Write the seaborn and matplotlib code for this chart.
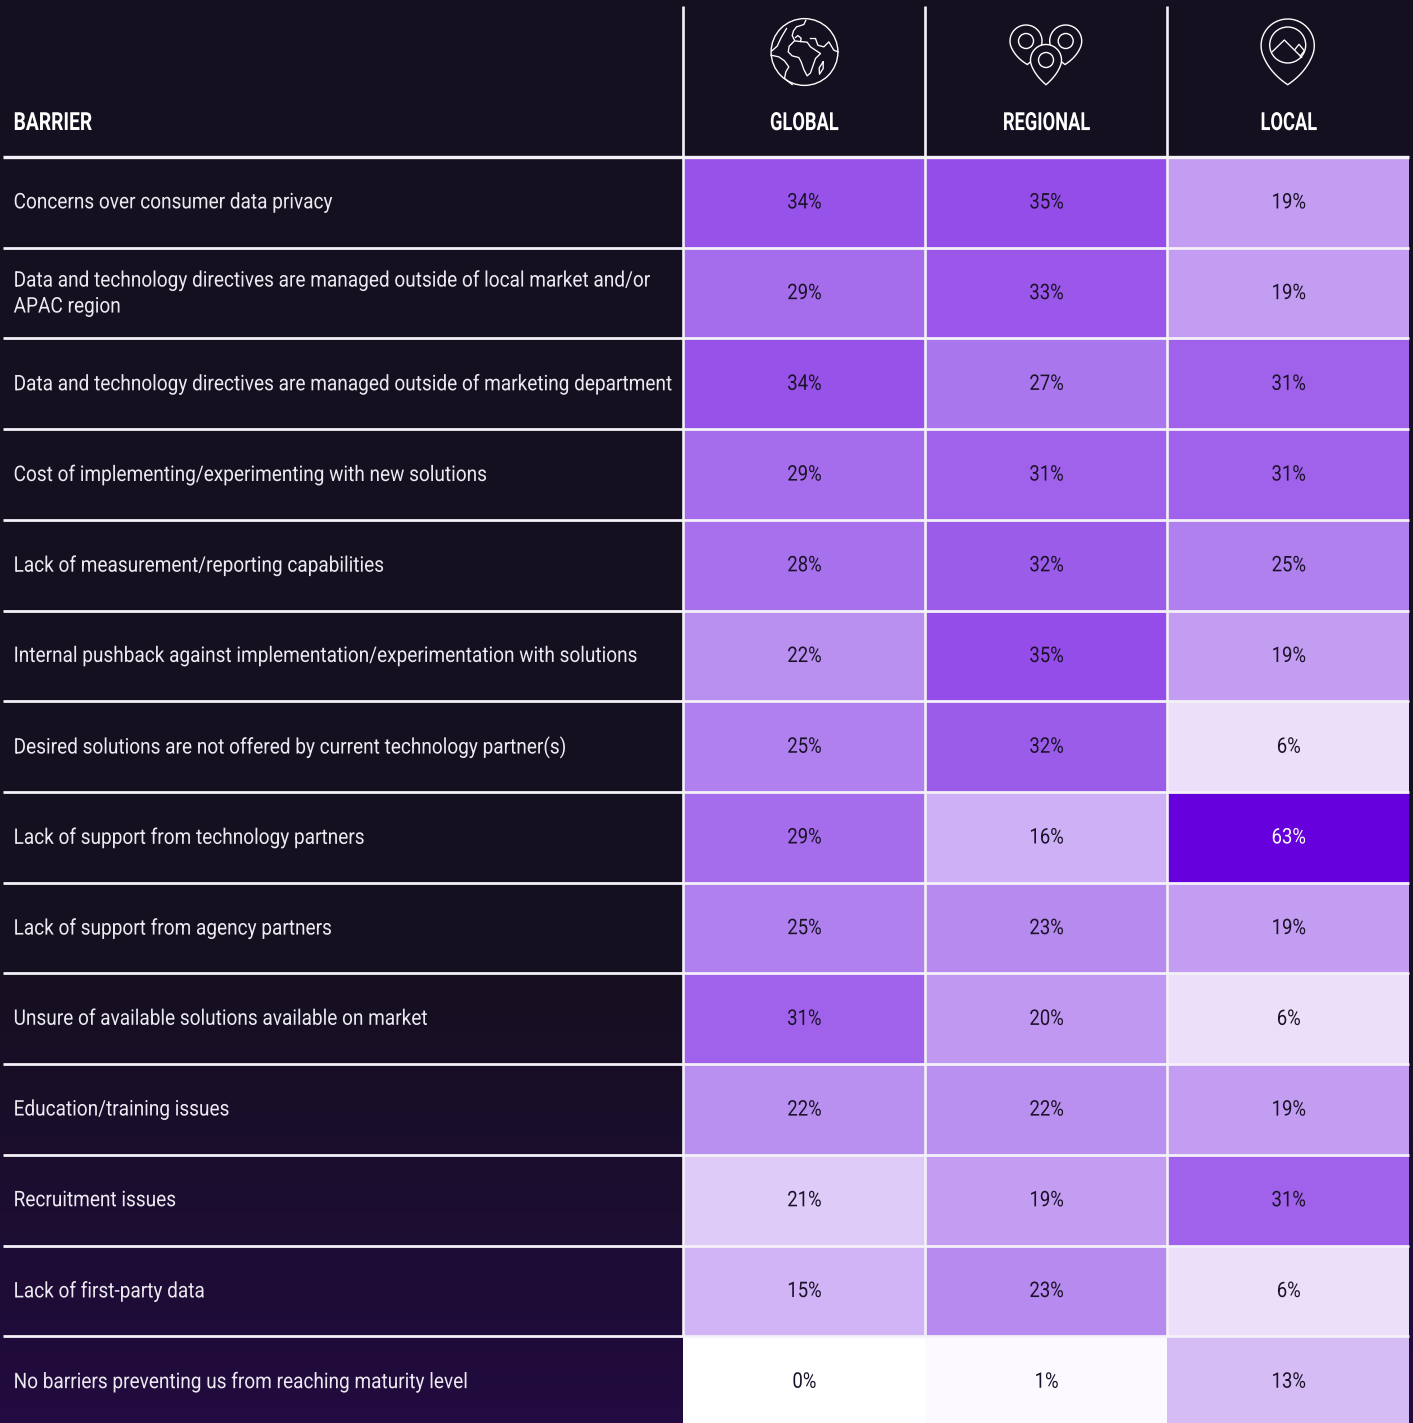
import numpy as np
import pandas as pd
import matplotlib
matplotlib.use('Agg')
import matplotlib.pyplot as plt
import seaborn as sns
from matplotlib.colors import LinearSegmentedColormap
from matplotlib.patches import Circle, Polygon
from matplotlib.patheffects import AbstractPathEffect
from matplotlib.transforms import Affine2D

barriers = [
    'Concerns over consumer data privacy',
    'Data and technology directives are managed outside of local market and/or\nAPAC region',
    'Data and technology directives are managed outside of marketing department',
    'Cost of implementing/experimenting with new solutions',
    'Lack of measurement/reporting capabilities',
    'Internal pushback against implementation/experimentation with solutions',
    'Desired solutions are not offered by current technology partner(s)',
    'Lack of support from technology partners',
    'Lack of support from agency partners',
    'Unsure of available solutions available on market',
    'Education/training issues',
    'Recruitment issues',
    'Lack of first-party data',
    'No barriers preventing us from reaching maturity level',
]
columns = ['GLOBAL', 'REGIONAL', 'LOCAL']
global_vals = [34, 29, 34, 29, 28, 22, 25, 29, 25, 31, 22, 21, 15, 0]
regional_vals = [35, 33, 27, 31, 32, 35, 32, 16, 23, 20, 22, 19, 23, 1]
local_vals = [19, 19, 31, 31, 25, 19, 6, 63, 19, 6, 19, 31, 6, 13]
# the 21% cell is shaded much lighter than its value in the original
global_shade = [34, 29, 34, 29, 28, 22, 25, 29, 25, 31, 22, 10, 15, 0]

BG = '#15101f'
BG_END = '#220b40'
LINE = '#f4f1f8'
TEXT = '#ece9f1'
DARK = '#1a1228'
BODY = 'Roboto'


class Squeeze(AbstractPathEffect):
    """Narrow the glyphs sideways, no condensed font is installed."""

    def __init__(self, sx, center=False, dx=0, dy=0):
        super().__init__()
        self.sx = sx
        self.center = center
        self.dx = dx
        self.dy = dy

    def draw_path(self, renderer, gc, tpath, affine, rgbFace=None):
        mid = 0
        if self.center:
            ext = tpath.get_extents()
            mid = (ext.x0 + ext.x1) / 2
        squeeze = Affine2D().translate(-mid, 0).scale(self.sx, 1).translate(mid, 0)
        renderer.draw_path(gc, tpath, squeeze + affine + Affine2D().translate(self.dx, -self.dy), rgbFace)


values = pd.DataFrame({'GLOBAL': global_vals, 'REGIONAL': regional_vals, 'LOCAL': local_vals}, index=barriers)
shades = values.copy()
shades['GLOBAL'] = global_shade
labels = values.astype(str) + '%'

cmap = LinearSegmentedColormap.from_list('purple', [
    (0, '#ffffff'), (6 / 63, '#ecdff9'), (13 / 63, '#d4bbf5'), (16 / 63, '#cdb0f6'), (19 / 63, '#c39df2'),
    (25 / 63, '#af80ee'), (35 / 63, '#954de9'), (1, '#6600dd')])

W, H = 1413, 1423
fig = plt.figure(figsize=(W / 100, H / 100), dpi=100, facecolor=BG)

# background gets a bit more purple towards the bottom
bg = fig.add_axes([0, 0, 1, 1], zorder=0)
bg.axis('off')
grad = LinearSegmentedColormap.from_list('bg', [(0, BG), (0.68, BG), (1, BG_END)])
bg.imshow(np.linspace(0, 1, 256).reshape(-1, 1), cmap=grad, aspect='auto', extent=(0, W, H, 0))

ax = fig.add_axes([682.5 / W, (H - 1427) / H, 726.5 / W, 1270 / H], zorder=1)
sns.heatmap(shades, ax=ax, cmap=cmap, vmin=0, vmax=63, cbar=False, annot=labels, fmt='',
            annot_kws={'fontsize': 15.5, 'family': BODY})
for t in ax.texts:
    t.set_color('white' if t.get_text() == '63%' else DARK)
    t.set_path_effects([Squeeze(0.86, center=True, dx=0.8, dy=0.6)])

ax.xaxis.tick_top()
ax.set_xlabel('')
ax.set_ylabel('')
ax.set_xticklabels(columns, family=BODY, fontsize=18, fontweight='bold', color='white')
ax.tick_params(axis='x', length=0, pad=15.8)
for t in ax.get_xticklabels():
    t.set_path_effects([Squeeze(0.73, center=True, dx=0.8)])
ax.set_yticklabels(barriers, rotation=0, ha='left', family=BODY, fontsize=15.5, color=TEXT, linespacing=1.31)
ax.tick_params(axis='y', length=0, pad=(682.5 - 13.6) * 0.72)
for t in ax.get_yticklabels():
    t.set_path_effects([Squeeze(0.884, dy=0.5)])

# overlay in pixel coordinates for rules and icons
ov = fig.add_axes([0, 0, 1, 1], zorder=2)
ov.set_xlim(0, W)
ov.set_ylim(H, 0)
ov.axis('off')
ov.patch.set_alpha(0)

barrier_txt = ov.text(13.6, 130, 'BARRIER', family=BODY, fontsize=18, fontweight='bold', color='white', va='baseline')
barrier_txt.set_path_effects([Squeeze(0.77)])

row_lines = [157 + i * 1270 / 14 for i in range(14)]
for i, y in enumerate(row_lines):
    ov.plot([3, 1409], [y, y], color=LINE, lw=2.0 if i else 2.4, solid_capstyle='butt')
for x in [683, 925, 1167]:
    ov.plot([x, x], [6, 1336], color=LINE, lw=1.9, solid_capstyle='butt')


def squiggle(points, ox, oy):
    xs = [ox + p[0] / 3 for p in points]
    ys = [oy + p[1] / 3 for p in points]
    ov.plot(xs, ys, color='white', lw=0.95, solid_joinstyle='round')


def pin(cx, cy, r, tx, ty, inner, icy=None):
    th = np.arctan2(ty - cy, tx - cx)
    b = 1.2
    t = np.linspace(th + b, th + 2 * np.pi - b, 60)
    head = np.column_stack([cx + r * np.cos(t), cy + r * np.sin(t)])
    tip = np.array([tx, ty])
    u = np.linspace(0, 1, 15)[:, None]
    # curved sides from the head down to the tip
    c1 = head[-1] + np.array([-np.sin(t[-1]), np.cos(t[-1])]) * r * 0.7
    c0 = head[0] - np.array([-np.sin(t[0]), np.cos(t[0])]) * r * 0.7
    side1 = (1 - u) ** 2 * head[-1] + 2 * u * (1 - u) * c1 + u ** 2 * tip
    side0 = (1 - u) ** 2 * tip + 2 * u * (1 - u) * c0 + u ** 2 * head[0]
    ov.add_patch(Polygon(np.vstack([head, side1, side0]), closed=True, fc=BG, ec='white', lw=1.0))
    ov.add_patch(Circle((cx, cy if icy is None else icy), inner, fc='none', ec='white', lw=1.0))


# globe
ov.add_patch(Circle((804.5, 52), 33.4, fc='none', ec='white', lw=1.0))
gx, gy = 760.5, 10.2
squiggle([(136, 30), (130, 43), (108, 50), (99, 62), (95, 76), (102, 90)], gx, gy)
squiggle([(105, 82), (112, 76), (122, 84), (120, 94), (140, 96), (150, 110), (165, 120), (180, 130),
          (165, 145), (158, 165), (150, 188), (140, 197), (130, 178), (122, 155), (115, 142), (95, 137),
          (83, 125), (86, 108), (102, 92), (120, 94)], gx, gy)
squiggle([(150, 85), (165, 85), (172, 105), (190, 110), (205, 95), (220, 120), (233, 125)], gx, gy)
squiggle([(78, 55), (62, 82), (50, 108), (34, 122)], gx, gy)
squiggle([(32, 135), (55, 140), (72, 152), (85, 170), (76, 185), (72, 205), (95, 223)], gx, gy)
squiggle([(188, 155), (176, 173), (177, 192), (188, 175), (188, 155)], gx, gy)

# three pins
pin(1026, 41, 16, 1027.3, 64.5, 7.5)
pin(1065.7, 41, 16, 1065, 64.5, 7.5)
pin(1046, 60, 15.5, 1046, 84.7, 7.5)

# local pin
pin(1287.7, 45.6, 26.6, 1287.7, 84.7, 18, icy=45)
squiggle([(82, 125), (118, 90), (170, 142)], 1245, 10)
squiggle([(150, 118), (162, 103), (178, 122), (166, 138)], 1245, 10)

fig.savefig('out.png', dpi=100, facecolor=BG)
